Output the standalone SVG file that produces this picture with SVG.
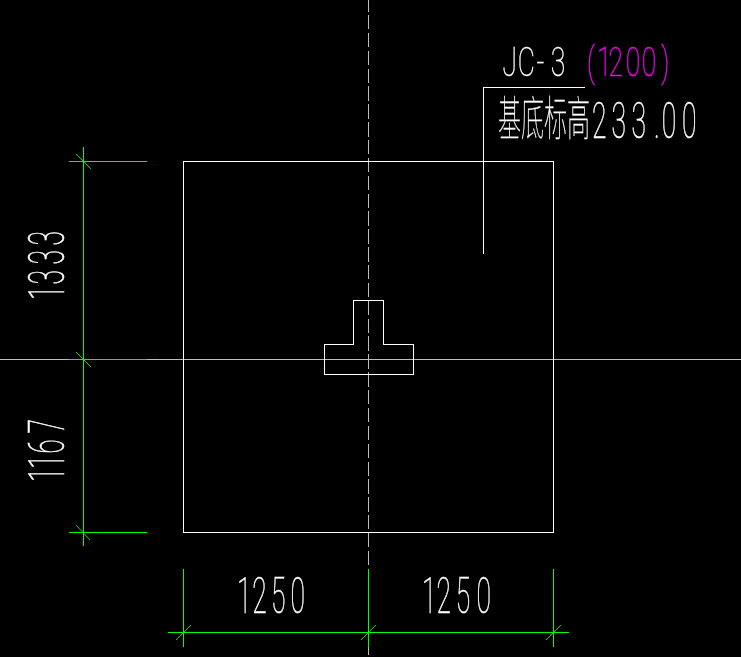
<svg xmlns="http://www.w3.org/2000/svg" width="741" height="657" viewBox="0 0 741 657">
<style>
.l{fill:none;stroke:#fff;stroke-width:1;shape-rendering:crispEdges}
.c{fill:none;stroke:#bdbdbd;stroke-width:1;shape-rendering:crispEdges}
.g{fill:none;stroke:#00ff00;stroke-width:1;shape-rendering:crispEdges}
.k{fill:none;stroke:#00e000;stroke-width:1}
text{font-family:"Roboto","Liberation Sans",sans-serif;font-weight:100;font-size:50px;fill:#fff;stroke:#fff;stroke-width:.6}
.cjk{font-family:"Noto Sans CJK SC",sans-serif;font-size:47px;stroke-width:.3}
.m{fill:#ff00ff;stroke:#ff00ff}
</style>
<rect width="741" height="657" fill="#000"/>
<g id="centerlines">
<path class="c" d="M0 359.5H741"/>
<path class="c" d="M368.5 0V657" stroke-dasharray="14.4 3.46" stroke-dashoffset="2.86"/>
</g>
<g id="footing">
<rect class="l" x="183.5" y="161.5" width="370" height="371"/>
<path class="l" d="M353.5 344.5V300.5H383.5V344.5H413.5V374.5H324.5V344.5Z"/>
</g>
<g id="leader"><path class="l" d="M483.5 254V87.5H585"/></g>
<g id="connectors">
<path class="g" d="M83.5 147V546M69 161.5H147M69 359.5H147M69 532.5H147M168 632.5H569M183.5 569V647M368.5 569V647M553.5 569V647"/>
<path class="k" d="M76 154L91 169M76 352L91 367M76 525L90 540M176 640L191 625M361 640L376 625M546 640L561 625"/>
</g>
<g id="labels" opacity=".99">
<text transform="translate(502.5 76) scale(.53 .8)" x="0 28.8 64.1 90.9">JC-3</text>
<text class="m" transform="translate(587 76) scale(.53 .8)" x="0 18.7 40.8 72.9 103.1 140.1">(1200)</text>
<text class="cjk" transform="translate(498 135) scale(.49 1)">基底标高</text>
<text transform="translate(592 138) scale(.53 1)" x="0 36.6 74.7 117.2 131.7 169.8">233.00</text>
<text transform="translate(64 300) rotate(-90) scale(.53 1)" x="0 29.2 67.1 102.7">1333</text>
<text transform="translate(64 482) rotate(-90) scale(.53 1)" x="0 24.6 53.5 91.7">1167</text>
<text transform="translate(237 613) scale(.53 1)" x="0 28.8 64.1 101">1250</text>
<text transform="translate(422 613) scale(.53 1)" x="0 27.2 63.7 102.7">1250</text>
</g>
</svg>
